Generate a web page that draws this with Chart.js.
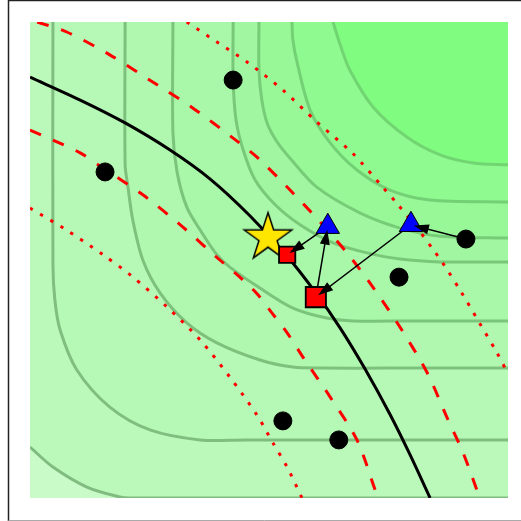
<!DOCTYPE html>
<html>
<head>
<meta charset="utf-8">
<script src="https://cdn.jsdelivr.net/npm/chart.js@4.4.0/dist/chart.umd.min.js"></script>
<style>
  html, body { margin: 0; padding: 0; background: #fff; }
  canvas { display: block; }
</style>
</head>
<body>
<canvas id="chart" width="521" height="521"></canvas>
<script>
// background levels, each traced from the top edge round to the right edge
const level0X = [0, 0.48, 1.19, 1.88, 2.09, 10];
const level0Y = [1.07, 0.65, 0.23, 0.02, 0, 0];
const level1X = [0.48, 0.48, 0.52, 0.63, 0.98, 1.67, 2.51, 3.56, 4.5, 10];
const level1Y = [10, 4.89, 4.16, 3.53, 2.69, 1.91, 1.43, 1.22, 1.22, 1.22];
const level2X = [1.99, 1.99, 2.05, 2.15, 2.36, 2.72, 3.28, 3.91, 4.81, 5.50, 6.07, 7.5, 10];
const level2Y = [10, 7.00, 6.53, 5.84, 5.00, 4.31, 3.68, 3.26, 2.90, 2.75, 2.73, 2.73, 2.73];
const level3X = [2.99, 2.99, 3.08, 3.28, 3.56, 3.91, 4.18, 4.81, 5.50, 6.21, 6.76, 8, 10];
const level3Y = [10, 7.67, 6.83, 6.11, 5.63, 5.11, 4.85, 4.41, 3.99, 3.78, 3.72, 3.72, 3.72];
const level4X = [4.25, 4.25, 4.31, 4.46, 4.71, 5.13, 5.65, 6.34, 7.05, 7.74, 8.58, 10];
const level4Y = [10, 8.78, 7.94, 7.31, 6.68, 6.16, 5.74, 5.36, 5.15, 5.02, 4.96, 4.96];
const level5X = [4.79, 4.79, 4.85, 4.96, 5.17, 5.44, 6.00, 6.90, 7.74, 8.58, 10];
const level5Y = [10, 8.99, 8.36, 7.88, 7.48, 7.14, 6.53, 5.99, 5.67, 5.50, 5.46];
const level6X = [5.48, 5.50, 5.59, 5.86, 6.28, 6.84, 7.53, 8.37, 10];
const level6Y = [10, 9.62, 9.14, 8.15, 7.46, 6.89, 6.47, 6.26, 6.22];
const level7X = [6.34, 6.49, 6.69, 7.18, 7.89, 8.58, 9.27, 10];
const level7Y = [10, 9.52, 8.99, 8.21, 7.58, 7.21, 7.04, 7.00];

// red bands (dashed / dotted) and the black boundary
const dashUpperX = [0.15, 0.77, 1.67, 2.66, 3.41, 4.25, 4.75, 5.44, 6.07, 6.63, 7.11, 7.74, 8.31, 8.72, 9.06, 9.41];
const dashUpperY = [10, 9.79, 9.31, 8.68, 8.19, 7.56, 7.16, 6.47, 5.80, 5.15, 4.52, 3.59, 2.63, 1.70, 0.95, 0];
const dashLowerX = [0, 0.48, 1.05, 1.53, 2.36, 3.20, 3.97, 4.39, 4.75, 5.06, 5.38, 5.71, 6.28, 6.84, 7.22, 7.28];
const dashLowerY = [7.73, 7.52, 7.25, 6.93, 6.37, 5.69, 5.00, 4.64, 4.29, 3.89, 3.47, 2.96, 2.12, 1.22, 0.17, 0];
const dotUpperX = [3.28, 3.91, 4.54, 5.29, 6.00, 6.74, 7.38, 7.70, 8.16, 8.47, 8.62, 9.02, 9.39, 9.77, 10];
const dotUpperY = [10, 9.58, 9.16, 8.57, 7.90, 7.25, 6.53, 6.16, 5.59, 5.17, 4.96, 4.33, 3.70, 3.05, 2.61];
const dotLowerX = [0, 0.73, 1.53, 2.13, 2.87, 3.56, 4.18, 4.75, 5.08, 5.38, 5.69];
const dotLowerY = [6.09, 5.65, 5.11, 4.66, 4.01, 3.32, 2.54, 1.74, 1.16, 0.65, 0];
const boundaryX = [0, 1.05, 1.99, 2.93, 3.77, 4.60, 5.38, 5.98, 6.49, 7.01, 7.53, 7.95, 8.37];
const boundaryY = [8.84, 8.36, 7.88, 7.31, 6.70, 5.93, 5.08, 4.31, 3.57, 2.71, 1.76, 0.91, 0];

// markers
const observedX = [4.25, 1.57, 9.12, 7.72, 5.29, 6.46];
const observedY = [8.78, 6.85, 5.44, 4.64, 1.62, 1.22];
const probeX = [6.23, 7.97];
const probeY = [5.70, 5.74];
const stepX = [5.38, 5.98];
const stepY = [5.11, 4.22];
const bestX = [4.98];
const bestY = [5.47];

// arrow chain: observation -> probe -> step -> probe -> step
const pathX = [observedX[2], probeX[1], stepX[1], probeX[0], stepX[0]];
const pathY = [observedY[2], probeY[1], stepY[1], probeY[0], stepY[0]];

const zip = (xs, ys) => xs.map((v, i) => ({ x: v, y: ys[i] }));

function level(xs, ys, fillColor, lineColor, order) {
  return {
    type: 'line',
    data: zip(xs, ys),
    borderColor: lineColor,
    borderWidth: 3,
    backgroundColor: fillColor,
    fill: 'end',
    pointRadius: 0,
    tension: 0.3,
    order: order
  };
}

function curve(xs, ys, color, dash, order) {
  return {
    type: 'line',
    data: zip(xs, ys),
    borderColor: color,
    borderWidth: 3,
    borderDash: dash,
    borderCapStyle: 'butt',
    fill: false,
    pointRadius: 0,
    tension: 0.3,
    order: order
  };
}

// five-pointed star marker
const starImg = document.createElement('canvas');
starImg.width = 60;
starImg.height = 60;
(function () {
  const c = starImg.getContext('2d');
  const R = 25, r = R * 0.382;
  c.beginPath();
  for (let i = 0; i < 10; i++) {
    const rad = (i % 2 === 0) ? R : r;
    const a = -Math.PI / 2 + i * Math.PI / 5;
    const px = 30 + rad * Math.cos(a), py = 30 + rad * Math.sin(a);
    if (i === 0) c.moveTo(px, py); else c.lineTo(px, py);
  }
  c.closePath();
  c.fillStyle = '#ffe600';
  c.fill();
  c.lineWidth = 1.5;
  c.strokeStyle = '#000';
  c.stroke();
})();

const plotBackground = {
  id: 'plotBackground',
  beforeDraw(chart) {
    const { ctx, chartArea: a } = chart;
    ctx.save();
    ctx.fillStyle = '#c8fbc8';
    ctx.fillRect(a.left, a.top, a.right - a.left, a.bottom - a.top);
    ctx.restore();
  }
};

const arrowHeads = {
  id: 'arrowHeads',
  afterDatasetsDraw(chart) {
    const { ctx, scales: { x, y } } = chart;
    ctx.save();
    ctx.fillStyle = '#000';
    for (let i = 1; i < pathX.length; i++) {
      const x0 = x.getPixelForValue(pathX[i - 1]), y0 = y.getPixelForValue(pathY[i - 1]);
      const x1 = x.getPixelForValue(pathX[i]), y1 = y.getPixelForValue(pathY[i]);
      const a = Math.atan2(y1 - y0, x1 - x0);
      const cs = Math.cos(a), sn = Math.sin(a);
      const tx = x1 - 3 * cs, ty = y1 - 3 * sn;
      const len = 15, half = 5;
      ctx.beginPath();
      ctx.moveTo(tx, ty);
      ctx.lineTo(tx - len * cs + half * sn, ty - len * sn - half * cs);
      ctx.lineTo(tx - len * cs - half * sn, ty - len * sn + half * cs);
      ctx.closePath();
      ctx.fill();
    }
    ctx.restore();
  }
};

const frame = {
  id: 'frame',
  afterDraw(chart) {
    const ctx = chart.ctx;
    ctx.save();
    ctx.strokeStyle = '#222';
    ctx.lineWidth = 1.5;
    ctx.beginPath();
    ctx.moveTo(8.5, 521);
    ctx.lineTo(8.5, 0.5);
    ctx.lineTo(521, 0.5);
    ctx.stroke();
    ctx.strokeStyle = '#aaa';
    ctx.lineWidth = 1;
    ctx.beginPath();
    ctx.moveTo(8.5, 520.5);
    ctx.lineTo(521, 520.5);
    ctx.stroke();
    ctx.restore();
  }
};

new Chart(document.getElementById('chart'), {
  data: {
    datasets: [
      level(level0X, level0Y, '#bbf9bb', '#80bc80', 108),
      level(level1X, level1Y, '#b6f8b6', '#7fbe7f', 107),
      level(level2X, level2Y, '#b0f8b0', '#7dc17d', 106),
      level(level3X, level3Y, '#a9f7a9', '#7bc47b', 105),
      level(level4X, level4Y, '#a1f7a1', '#79c879', 104),
      level(level5X, level5Y, '#98f898', '#77cc77', 103),
      level(level6X, level6Y, '#8ffa8f', '#74d074', 102),
      level(level7X, level7Y, '#80fd80', '#71d571', 101),
      curve(dashUpperX, dashUpperY, '#ff0000', [12, 13], 30),
      curve(dashLowerX, dashLowerY, '#ff0000', [12, 13], 30),
      curve(dotUpperX, dotUpperY, '#ff0000', [3.3, 8.5], 30),
      curve(dotLowerX, dotLowerY, '#ff0000', [3.3, 8.5], 30),
      curve(boundaryX, boundaryY, '#000000', [], 20),
      {
        type: 'line',
        data: zip(pathX, pathY),
        borderColor: '#000',
        borderWidth: 1.5,
        pointRadius: 0,
        tension: 0,
        fill: false,
        order: 15
      },
      {
        type: 'scatter',
        data: zip(observedX, observedY),
        pointStyle: 'circle',
        pointRadius: 9,
        backgroundColor: '#000',
        borderColor: '#000',
        borderWidth: 1,
        order: 5
      },
      {
        type: 'scatter',
        data: zip(bestX, bestY),
        pointStyle: starImg,
        order: 4
      },
      {
        type: 'scatter',
        data: zip(probeX, probeY),
        pointStyle: 'triangle',
        pointRadius: 13.5,
        backgroundColor: '#0000ff',
        borderColor: '#000',
        borderWidth: 1,
        order: 3
      },
      {
        type: 'scatter',
        data: [{ x: stepX[0], y: stepY[0] }],
        pointStyle: 'rect',
        pointRadius: 11.5,
        backgroundColor: '#ff0000',
        borderColor: '#000',
        borderWidth: 1.8,
        order: 2
      },
      {
        type: 'scatter',
        data: [{ x: stepX[1], y: stepY[1] }],
        pointStyle: 'rect',
        pointRadius: 14.3,
        backgroundColor: '#ff0000',
        borderColor: '#000',
        borderWidth: 1.8,
        order: 2
      }
    ]
  },
  options: {
    responsive: false,
    animation: false,
    devicePixelRatio: 1,
    events: [],
    layout: { autoPadding: false, padding: { left: 30, top: 22, right: 13, bottom: 23 } },
    scales: {
      x: { type: 'linear', min: 0, max: 10, display: false },
      y: { type: 'linear', min: 0, max: 10, display: false }
    },
    plugins: {
      legend: { display: false },
      tooltip: { enabled: false }
    }
  },
  plugins: [plotBackground, arrowHeads, frame]
});
</script>
</body>
</html>
